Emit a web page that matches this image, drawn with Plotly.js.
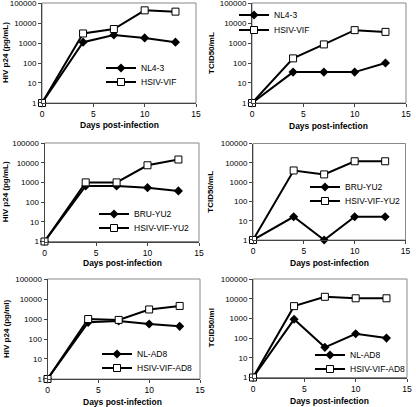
<!DOCTYPE html>
<html><head><meta charset="utf-8">
<script src="https://cdn.plot.ly/plotly-3.0.1.min.js"></script>
<style>body{margin:0;padding:0;background:#fff}#c{width:416px;height:407px}</style>
</head><body><div id="c"></div>
<script>
const days = [0, 4, 7, 10, 13];
// Panel values
const p1_nl43 = [1, 1100, 2500, 1800, 1100];
const p1_hsiv = [1, 3000, 5000, 43000, 37000];
const p2_nl43 = [1, 35, 35, 35, 100];
const p2_hsiv = [1, 170, 850, 4400, 3600];
const p3_bru = [1, 660, 660, 540, 370];
const p3_hsiv = [1, 1000, 1000, 7400, 14500];
const p4_bru = [1, 16, 1, 16, 16];
const p4_hsiv = [1, 4000, 2500, 12000, 12000];
const p5_nl = [1, 680, 800, 560, 430];
const p5_hsiv = [1, 1000, 900, 3000, 4500];
const p6_nl = [1, 900, 34, 165, 100];
const p6_hsiv = [1, 4200, 12500, 10500, 10500];

const names = [
  ['NL4-3', 'HSIV-VIF'], ['NL4-3', 'HSIV-VIF'],
  ['BRU-YU2', 'HSIV-VIF-YU2'], ['BRU-YU2', 'HSIV-VIF-YU2'],
  ['NL-AD8', 'HSIV-VIF-AD8'], ['NL-AD8', 'HSIV-VIF-AD8']
];
const series = [[p1_nl43, p1_hsiv], [p2_nl43, p2_hsiv], [p3_bru, p3_hsiv], [p4_bru, p4_hsiv], [p5_nl, p5_hsiv], [p6_nl, p6_hsiv]];
const yTitles = ['HIV p24 (pg/mL)', 'TCID50/mL', 'HIV p24 (pg/mL)', 'TCID50/mL', 'HIV p24 (pg/ml)', 'TCID50/ml'];
const xTitle = 'Days post-infection';
const yTickVals = [1, 10, 100, 1000, 10000, 100000];
const yTickText = ['1', '10', '100', '1000', '10000', '100000'];
const xTickVals = [0, 5, 10, 15];

const W = 416, H = 407;
// plot area boxes [left, right, top, bottom] in px
const boxes = [
  [42, 196, 3, 103], [252, 406, 3, 103],
  [44.5, 199, 143, 241.5], [253, 405.5, 143.5, 240],
  [47.5, 200, 279, 379], [253, 407, 279, 377.5]
];
// legend text start x, and y of the two entries (px)
const legPos = [
  [139, 68, 82], [272, 15, 30],
  [132, 214, 228], [343, 187, 201],
  [135, 354, 368], [348, 355, 369]
];
const yTitleX = [5, 211, 5, 211, 6, 211];
const xTitlePos = [[120, 125], [328, 126], [122, 263], [329, 263], [122, 402], [329, 401]];

const data = [];
const layout = {
  width: W, height: H, margin: {l: 0, r: 0, t: 0, b: 0},
  paper_bgcolor: '#fff', plot_bgcolor: '#fff', showlegend: true,
  font: {family: 'Liberation Sans, Arial, sans-serif', color: '#000', size: 8},
  annotations: [], shapes: []
};
let legN = 0;
for (let i = 0; i < 6; i++) {
  const ax = i === 0 ? '' : String(i + 1);
  const b = boxes[i];
  layout['xaxis' + ax] = {
    domain: [b[0] / W, b[1] / W], range: [0, 15], anchor: 'y' + ax,
    tickvals: xTickVals, showgrid: false, zeroline: false,
    showline: true, linecolor: '#444', linewidth: 1,
    ticks: 'outside', ticklen: 3, tickcolor: '#444',
    tickfont: {size: 8.5, family: 'Liberation Sans, Arial, sans-serif'}
  };
  layout['yaxis' + ax] = {
    domain: [1 - b[3] / H, 1 - b[2] / H], type: 'log', range: [-0.0005, 5.0005], anchor: 'x' + ax,
    tickvals: yTickVals, ticktext: yTickText, showgrid: false, zeroline: false,
    showline: true, linecolor: '#444', linewidth: 1, ticklabeloverflow: 'allow',
    ticks: 'outside', ticklen: 3, tickcolor: '#444',
    tickfont: {size: 8, family: 'Liberation Sans, Arial, sans-serif'}
  };
  layout.shapes.push({type: 'rect', xref: 'x' + ax + ' domain', yref: 'y' + ax + ' domain',
    x0: 0, x1: 1, y0: 0, y1: 1, line: {color: '#888', width: 1}, layer: 'below'});
  // axis titles
  layout.annotations.push({text: '<b>' + yTitles[i] + '</b>', textangle: -90, showarrow: false,
    xref: 'paper', yref: 'paper', x: yTitleX[i] / W, y: 1 - ((b[2] + b[3]) / 2) / H,
    xanchor: 'center', yanchor: 'middle', font: {size: 8}});
  layout.annotations.push({text: '<b>' + xTitle + '</b>', showarrow: false,
    xref: 'paper', yref: 'paper', x: xTitlePos[i][0] / W, y: 1 - xTitlePos[i][1] / H,
    xanchor: 'center', yanchor: 'middle', font: {size: 8.5}});
  for (let s = 0; s < 2; s++) {
    legN++;
    const lk = legN === 1 ? 'legend' : 'legend' + legN;
    data.push({
      x: days, y: series[i][s], name: names[i][s], type: 'scatter', mode: 'lines+markers',
      xaxis: 'x' + ax, yaxis: 'y' + ax, cliponaxis: false, legend: lk,
      line: {color: '#000', width: 2},
      marker: s === 0 ? {symbol: 'diamond', size: 7, color: '#000'} :
        {symbol: 'square', size: 7, color: '#fff', line: {color: '#000', width: 1}}
    });
    layout[lk] = {x: (legPos[i][0] - 38) / W, y: 1 - legPos[i][1 + s] / H,
      xanchor: 'left', yanchor: 'middle', bgcolor: 'rgba(0,0,0,0)', borderwidth: 0,
      font: {size: 8.5, family: 'Liberation Sans, Arial, sans-serif'}};
  }
}
Plotly.newPlot('c', data, layout, {staticPlot: true});
</script></body></html>
